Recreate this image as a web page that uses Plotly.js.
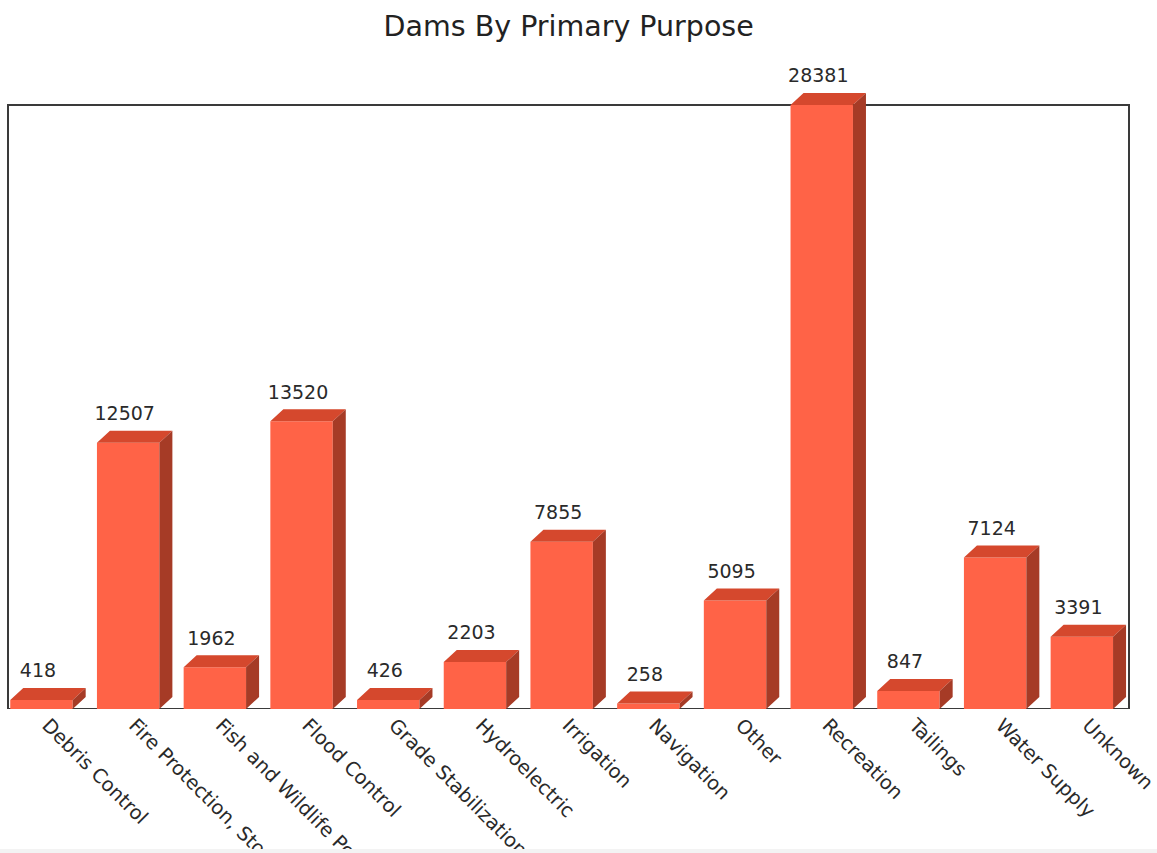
<!DOCTYPE html>
<html>
<head>
<meta charset="utf-8">
<script src="https://cdn.plot.ly/plotly-3.0.1.min.js"></script>
<style>html,body{margin:0;padding:0;background:#fff;}#chart{width:1157px;height:853px;}</style>
</head>
<body>
<div id="chart"></div>
<script>
// ---- data ----
const categories = ["Debris Control", "Fire Protection, Stock, Or Small Fish Pond", "Fish and Wildlife Pond",
  "Flood Control", "Grade Stabilization", "Hydroelectric", "Irrigation", "Navigation", "Other",
  "Recreation", "Tailings", "Water Supply", "Unknown"];
const damCounts = [418, 12507, 1962, 13520, 426, 2203, 7855, 258, 5095, 28381, 847, 7124, 3391];
const chartTitle = "Dams By Primary Purpose";

// ---- geometry of the pseudo-3D bars (axis units) ----
const maxV = Math.max(...damCounts);
const frontWidth = 0.72;
const frontShift = -0.074;          // front face centre relative to category centre
const depthX = 0.15;                // depth in category units
const depthY = maxV * 12 / 604;     // depth in value units (~12px)
const labelGap = maxV * 6 / 604;    // extra gap above the top face for the value labels
const yTop = maxV * 624 / 604;      // room for the top face and label anchor above the frame

const pos = categories.map((c, i) => i);
const left = pos.map(p => p + frontShift - frontWidth / 2);
const right = left.map(l => l + frontWidth);

const topX = [], topY = [], sideX = [], sideY = [];
damCounts.forEach((v, i) => {
  const L = left[i], R = right[i];
  topX.push(L, R, R + depthX, L + depthX, L, null);
  topY.push(v, v, v + depthY, v + depthY, v, null);
  sideX.push(R, R + depthX, R + depthX, R, R, null);
  sideY.push(0, depthY, v + depthY, v, 0, null);
});

const FONT = "DejaVu Sans, Verdana, sans-serif";

const traces = [
  {
    type: "bar", x: pos, y: damCounts, width: frontWidth, offset: frontShift - frontWidth / 2,
    marker: {color: "#FF6347", line: {width: 0}}, hoverinfo: "skip", showlegend: false
  },
  {
    type: "scatter", mode: "lines", x: topX, y: topY, fill: "toself",
    fillcolor: "#D5482D", line: {width: 0, color: "#D5482D"}, hoverinfo: "skip", showlegend: false
  },
  {
    type: "scatter", mode: "lines", x: sideX, y: sideY, fill: "toself",
    fillcolor: "#A63B26", line: {width: 0, color: "#A63B26"}, hoverinfo: "skip", showlegend: false
  },
  {
    type: "scatter", mode: "text", x: pos.map(p => p + frontShift - 0.04), y: damCounts.map(v => v + depthY + labelGap),
    text: damCounts.map(String), textposition: "top center", cliponaxis: false,
    textfont: {family: FONT, size: 19, color: "#2a2a2a"}, hoverinfo: "skip", showlegend: false
  }
];

const layout = {
  width: 1157, height: 853,
  margin: {l: 8, r: 28, t: 85, b: 144},
  paper_bgcolor: "#ffffff", plot_bgcolor: "rgba(0,0,0,0)",
  title: {text: chartTitle, x: 0.4915, xanchor: "center", y: 0.97, yref: "container", yanchor: "middle",
          font: {family: FONT, size: 28.5, color: "#222"}},
  xaxis: {
    range: [-0.46, categories.length - 0.53], tickvals: pos, ticktext: categories, tickangle: 45,
    showgrid: false, zeroline: false, showline: false, ticks: "", ticklabeloverflow: "allow",
    tickfont: {family: FONT, size: 19.5, color: "#2a2a2a"}, fixedrange: true
  },
  yaxis: {
    range: [0, yTop], showgrid: false, zeroline: false, showline: false, showticklabels: false,
    ticks: "", fixedrange: true
  },
  shapes: [
    {type: "rect", xref: "paper", yref: "y", x0: 0, x1: 1, y0: 0, y1: maxV, layer: "below",
     line: {color: "#3a3a3a", width: 2}, fillcolor: "rgba(0,0,0,0)"},
    {type: "rect", xref: "paper", yref: "paper", x0: -0.01, x1: 1.03, y0: -0.24, y1: -0.2245, layer: "above",
     line: {width: 0}, fillcolor: "#f3f3f3"}
  ],
  showlegend: false
};

Plotly.newPlot("chart", traces, layout, {displayModeBar: false, staticPlot: true});
</script>
</body>
</html>
